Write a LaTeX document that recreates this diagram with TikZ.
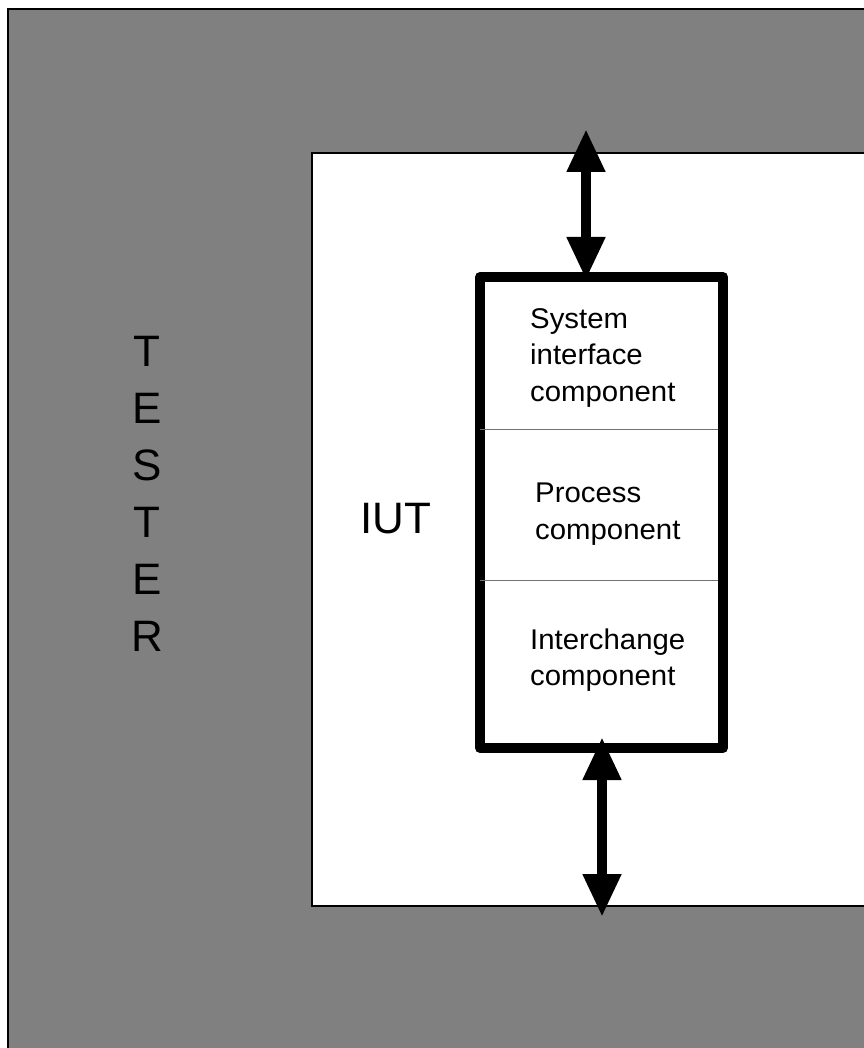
\documentclass[tikz,border=0pt]{standalone}
\usepackage{fontspec}
\setmainfont{Liberation Sans}
\newfontfamily\boxfont[FakeStretch=1.03]{Liberation Sans}
\usetikzlibrary{arrows.meta}
\tikzset{
  frameline/.style={line width=1.3pt, draw=black},
  bigarrow/.style={line width=10.5pt, draw=black,
    {Triangle[length=43pt,width=36pt]}-{Triangle[length=43pt,width=36pt]}},
  compbox/.style={draw=black, line width=10pt, line join=round, fill=white,
    minimum width=243pt, minimum height=471pt, inner sep=0pt},
  divider/.style={draw=black!55, line width=1pt},
  bigtext/.style={font=\fontsize{44}{57}\selectfont, inner sep=0pt, align=center},
  comptext/.style={font=\boxfont\fontsize{28.5}{36.5}\selectfont, inner sep=0pt, align=left, anchor=west}
}
\begin{document}
\begin{tikzpicture}[x=1pt,y=-1pt]
\useasboundingbox (0,0) rectangle (863,1048);
\fill[white] (0,0) rectangle (863,1048);
% tester area
\filldraw[fill=black!50, frameline] (8,9) rectangle (870,1056);
\draw[line width=2.5pt] (8,8) -- (8,42);
% IUT area
\filldraw[fill=white, frameline] (312,153) rectangle (870,906);
% component box
\node[compbox] (box) at (601.5,512.5) {};
\coordinate (d1l) at (480,429); \coordinate (d1r) at (718,429);
\coordinate (d2l) at (480,580); \coordinate (d2r) at (718,580);
\draw[divider] (d1l) -- (d1r);
\draw[divider] (d2l) -- (d2r);
% texts
\node[bigtext] (tester) at (147,493.5) {T\\E\\S\\T\\E\\R};
\node[bigtext] (iut) at (396,519) {IUT};
\node[comptext] (sys) at (530,358) {System\\interface\\component};
\node[comptext] (proc) at (535,514) {Process\\component};
\node[comptext] (inter) at (530,660) {Interchange\\component};
% arrows
\coordinate (ta) at (586,129); \coordinate (tb) at (586,280);
\coordinate (ba) at (602,737); \coordinate (bb) at (602,917);
\draw[bigarrow] (ta) -- (tb);
\draw[bigarrow] (ba) -- (bb);
\end{tikzpicture}
\end{document}
